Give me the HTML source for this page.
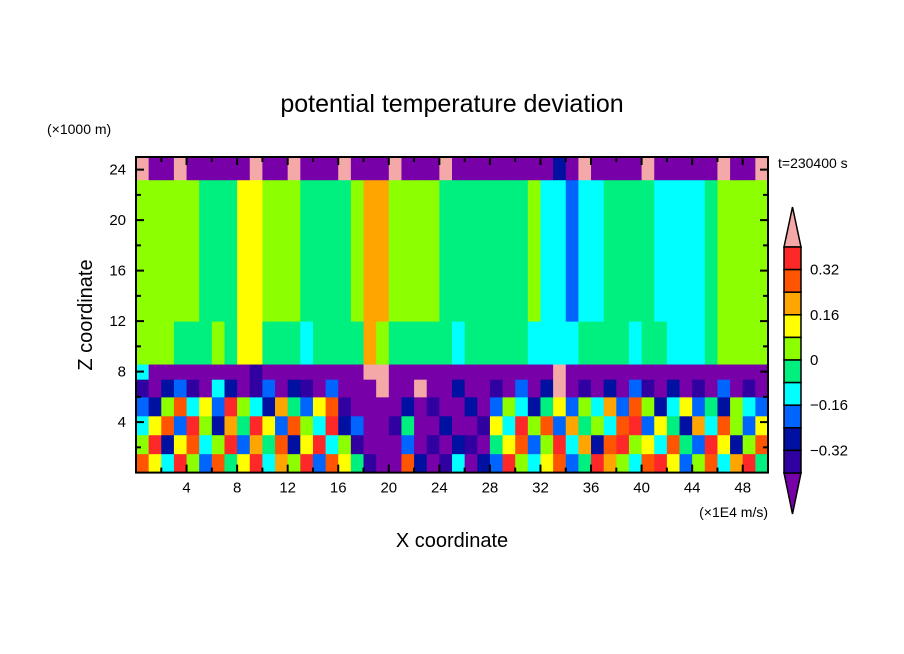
<!DOCTYPE html>
<html><head><meta charset="utf-8">
<style>
body{margin:0;background:#fff;}
svg{display:block;font-family:"Liberation Sans",sans-serif;}
</style></head>
<body>
<svg id="chart" width="904" height="654" viewBox="0 0 904 654" xmlns="http://www.w3.org/2000/svg">
<rect width="904" height="654" fill="#fff"/>
<g id="cells"></g>
<g id="axes"></g>
<g id="cbar"></g>
<text x="452" y="112" font-size="25" text-anchor="middle">potential temperature deviation</text>
<text x="47" y="134" font-size="14">(×1000 m)</text>
<text x="92" y="315" font-size="20" text-anchor="middle" transform="rotate(-90 92 315)">Z coordinate</text>
<text x="452" y="547" font-size="20" text-anchor="middle">X coordinate</text>
<text x="768" y="517" font-size="14" text-anchor="end">(×1E4 m/s)</text>
<text x="778" y="168" font-size="14">t=230400 s</text>
</svg>
<script>
const colors=["#7800a8","#3000a0","#0010a0","#0064ff","#00ffff","#00f080","#8cff00","#ffff00","#ffa500","#ff5500","#ff2828","#f5a8a8"];
const cbarLabels=["0.32","0.16","0","-0.16","-0.32"];
const xTicks=[4,8,12,16,20,24,28,32,36,40,44,48];
const yTicks=[4,8,12,16,20,24];
// z band boundaries (x1000 m)
const bands=[0,1.5,3,4.5,6,7.4,8.6,12,23.2,25];
// level index per x column (50 columns, 1 unit each) per band, bottom to top
const row0=[9,7,4,10,6,3,9,5,7,10,4,8,6,10,3,9,7,5,1,0,0,9,2,0,1,4,0,2,3,10,6,4,7,9,3,5,10,8,6,4,9,10,7,3,6,9,4,8,10,5];
const row1=[6,10,2,7,9,4,6,10,3,8,5,9,2,7,10,4,6,1,0,0,0,3,0,1,0,2,1,0,5,7,9,3,6,10,4,8,2,9,10,6,7,4,9,5,3,10,7,2,6,9];
const row2=[4,7,9,3,10,6,2,8,5,10,7,3,9,6,4,10,2,3,0,0,1,5,0,0,2,0,0,1,7,4,10,6,9,3,8,5,6,4,9,10,3,7,5,2,8,4,9,6,3,7];
const row3=[3,2,6,9,4,7,3,10,6,4,2,8,5,3,7,9,1,0,0,0,0,2,0,1,0,0,2,0,3,6,4,2,5,7,3,6,4,8,3,9,6,2,4,7,3,5,2,6,4,3];
const row4=[1,0,2,3,1,0,4,2,0,1,3,0,2,1,0,3,0,0,0,11,0,0,11,0,0,2,0,0,1,0,3,0,2,11,0,1,0,2,0,3,1,0,2,0,1,0,3,0,1,0];
const row5=[4,0,0,0,0,0,0,0,0,1,0,0,0,0,0,0,0,0,11,11,0,0,0,0,0,0,0,0,0,0,0,0,0,11,0,0,0,0,0,0,0,0,0,0,0,0,0,0,0,0];
const row6=[6,6,6,5,5,5,6,5,7,7,5,5,5,4,5,5,5,5,8,6,5,5,5,5,5,4,5,5,5,5,5,4,4,4,4,5,5,5,5,4,5,5,4,4,4,5,6,6,6,6];
const row7=[6,6,6,6,6,5,5,5,7,7,6,6,6,5,5,5,5,6,8,8,6,6,6,6,5,5,5,5,5,5,5,6,4,4,3,4,4,5,5,5,5,4,4,4,4,5,6,6,6,6];
const row8=[11,0,0,11,0,0,0,0,0,11,0,0,11,0,0,0,11,0,0,0,11,0,0,0,11,0,0,0,0,0,0,0,0,2,0,11,0,0,0,0,11,0,0,0,0,0,11,0,0,11];
const rows=[row0,row1,row2,row3,row4,row5,row6,row7,row8];
const X0=136,X1=768,Y0=472.6,Ytop=157,XMAX=50,ZMAX=25;
const sx=v=>X0+(X1-X0)*v/XMAX, sy=v=>Y0-(Y0-Ytop)*v/ZMAX;
const NS="http://www.w3.org/2000/svg";
const cells=document.getElementById('cells');
rows.forEach((r,bi)=>{
  r.forEach((lev,i)=>{
    const re=document.createElementNS(NS,'rect');
    re.setAttribute('x',sx(i));re.setAttribute('width',sx(i+1)-sx(i)+0.5);
    re.setAttribute('y',sy(bands[bi+1]));re.setAttribute('height',sy(bands[bi])-sy(bands[bi+1])+0.5);
    re.setAttribute('fill',colors[lev]);
    
    
    cells.appendChild(re);
  });
});
const axes=document.getElementById('axes');
function add(p,tag,attrs,txt){const e=document.createElementNS(NS,tag);for(const k in attrs)e.setAttribute(k,attrs[k]);if(txt!==undefined)e.textContent=txt;p.appendChild(e);return e;}
const fr=add(axes,'rect',{x:X0,y:Ytop,width:X1-X0,height:Y0-Ytop,fill:'none',stroke:'#000','stroke-width':2});


for(let v=2;v<XMAX;v+=2){const L=v%4===0?8:5;
  add(axes,'line',{x1:sx(v),x2:sx(v),y1:Y0,y2:Y0-L,stroke:'#000','stroke-width':2});
  add(axes,'line',{x1:sx(v),x2:sx(v),y1:Ytop,y2:Ytop+L,stroke:'#000','stroke-width':2});}
for(let v=2;v<ZMAX;v+=2){const L=v%4===0?8:5;
  add(axes,'line',{x1:X0,x2:X0+L,y1:sy(v),y2:sy(v),stroke:'#000','stroke-width':2});
  add(axes,'line',{x1:X1,x2:X1-L,y1:sy(v),y2:sy(v),stroke:'#000','stroke-width':2});}
xTicks.forEach(v=>{const t=add(axes,'text',{x:sx(v),y:Y0+20,'font-size':15,'text-anchor':'middle'},String(v));
  
  });
yTicks.forEach(v=>{const t=add(axes,'text',{x:X0-10,y:sy(v)+5,'font-size':15,'text-anchor':'end'},String(v));
  
  });
// colorbar
const cb=document.getElementById('cbar');
const cx0=784,cx1=801,ctop=247,cbot=473,n=10,h=(cbot-ctop)/n;
add(cb,'polygon',{points:`${cx0},${ctop} ${(cx0+cx1)/2},207 ${cx1},${ctop}`,fill:colors[11],stroke:'#000','stroke-width':1.5});
add(cb,'polygon',{points:`${cx0},${cbot} ${(cx0+cx1)/2},514 ${cx1},${cbot}`,fill:colors[0],stroke:'#000','stroke-width':1.5});
for(let i=0;i<n;i++){
  const r=add(cb,'rect',{x:cx0,y:ctop+i*h,width:cx1-cx0,height:h,fill:colors[10-i],stroke:'#000','stroke-width':1.5});
  
  
}
cbarLabels.forEach((l,i)=>{const t=add(cb,'text',{x:810,y:ctop+(i*2+1)*h+5,'font-size':15},l.replace('-','\u2212'));
  
  });
</script>
</body></html>
